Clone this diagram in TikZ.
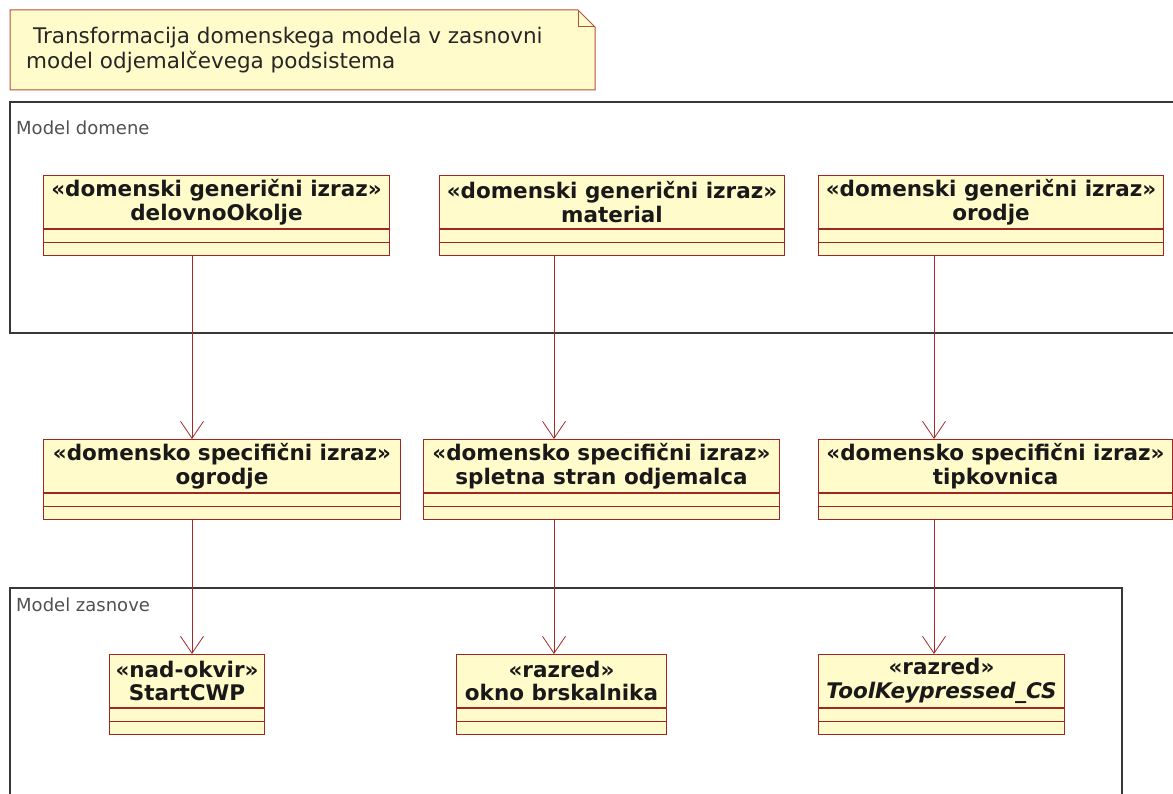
\documentclass[tikz,border=0pt]{standalone}
\usepackage{fontspec}
\setmainfont{DejaVu Sans}
\usetikzlibrary{arrows.meta}

\definecolor{clsfill}{RGB}{255,251,202}
\definecolor{clsline}{RGB}{160,38,38}
\definecolor{arrowcol}{RGB}{168,40,40}
\definecolor{noteline}{RGB}{185,78,58}
\definecolor{pkgline}{RGB}{55,55,55}
\definecolor{pkgtext}{RGB}{80,80,80}

\tikzset{
  clshead/.style={draw=clsline, fill=clsfill, line width=1pt, minimum height=53pt,
    inner sep=0pt, align=center, anchor=north west,
    font=\fontsize{21.5}{23.5}\selectfont\bfseries, text=black!90},
  clsbody/.style={draw=clsline, fill=clsfill, line width=1pt, minimum height=26pt,
    inner sep=0pt, anchor=north,
    path picture={\draw[clsline, line width=1pt]
      (path picture bounding box.west) -- (path picture bounding box.east);}},
  dep/.style={draw=arrowcol, line width=0.9pt,
    -{Straight Barb[length=17pt,width=23pt,line width=0.8pt]}},
  pkgframe/.style={draw=pkgline, line width=1.2pt},
  pkglabel/.style={anchor=west, inner sep=0pt, text=pkgtext,
    font=\fontsize{18}{21}\selectfont},
  notetext/.style={anchor=north west, inner sep=0pt, align=left, text=black!85,
    font=\fontsize{21.5}{25}\selectfont},
}

\begin{document}
\begin{tikzpicture}[x=1pt,y=-1pt]
\useasboundingbox (0,0) rectangle (1173,794);
\clip (0,0) rectangle (1173,794);

% note with folded corner
\draw[noteline, fill=clsfill, line width=1pt]
  (10,10) -- (578,10) -- (595,27) -- (595,90) -- (10,90) -- cycle;
\draw[noteline, line width=1pt] (578,10) -- (578,27) -- (595,27);
\node[notetext] (note) at (26,27)
  {\ Transformacija domenskega modela v zasnovni\\model odjemalčevega podsistema};

% packages
\draw[pkgframe] (10,102) rectangle (1190,333);
\node[pkglabel] (pkgdom) at (16,128) {Model domene};
\draw[pkgframe] (10,588) rectangle (1122,820);
\node[pkglabel] (pkgzas) at (16,605) {Model zasnove};

% domain generic terms
\node[clshead, minimum width=346pt] (c1) at (43,175) {«domenski generični izraz»\\delovnoOkolje};
\node[clsbody, minimum width=346pt] (c1b) at (c1.south) {};
\node[clshead, minimum width=345pt] (c2) at (439,175) {«domenski generični izraz»\\material};
\node[clsbody, minimum width=345pt] (c2b) at (c2.south) {};
\node[clshead, minimum width=345pt] (c3) at (818,175) {«domenski generični izraz»\\orodje};
\node[clsbody, minimum width=345pt] (c3b) at (c3.south) {};

% domain specific terms
\node[clshead, minimum width=357pt] (c4) at (43,439) {«domensko specifični izraz»\\ogrodje};
\node[clsbody, minimum width=357pt] (c4b) at (c4.south) {};
\node[clshead, minimum width=356pt] (c5) at (423,439) {«domensko specifični izraz»\\spletna stran odjemalca};
\node[clsbody, minimum width=356pt] (c5b) at (c5.south) {};
\node[clshead, minimum width=354pt] (c6) at (818,439) {«domensko specifični izraz»\\tipkovnica};
\node[clsbody, minimum width=354pt] (c6b) at (c6.south) {};

% design model classes
\node[clshead, minimum width=155pt] (c7) at (109,654) {«nad-okvir»\\StartCWP};
\node[clsbody, minimum width=155pt] (c7b) at (c7.south) {};
\node[clshead, minimum width=210pt] (c8) at (456,654) {«razred»\\okno brskalnika};
\node[clsbody, minimum width=210pt] (c8b) at (c8.south) {};
\node[clshead, minimum width=246pt] (c9) at (818,654) {«razred»\\\textit{ToolKeypressed\_CS}};
\node[clsbody, minimum width=246pt] (c9b) at (c9.south) {};

% connector columns
\coordinate (xa) at (192,0);
\coordinate (xb) at (554,0);
\coordinate (xc) at (934,0);

\draw[dep] (c1b.south -| xa) -- (c4.north -| xa);
\draw[dep] (c2b.south -| xb) -- (c5.north -| xb);
\draw[dep] (c3b.south -| xc) -- (c6.north -| xc);
\draw[dep] (c4b.south -| xa) -- (c7.north -| xa);
\draw[dep] (c5b.south -| xb) -- (c8.north -| xb);
\draw[dep] (c6b.south -| xc) -- (c9.north -| xc);
\end{tikzpicture}
\end{document}
